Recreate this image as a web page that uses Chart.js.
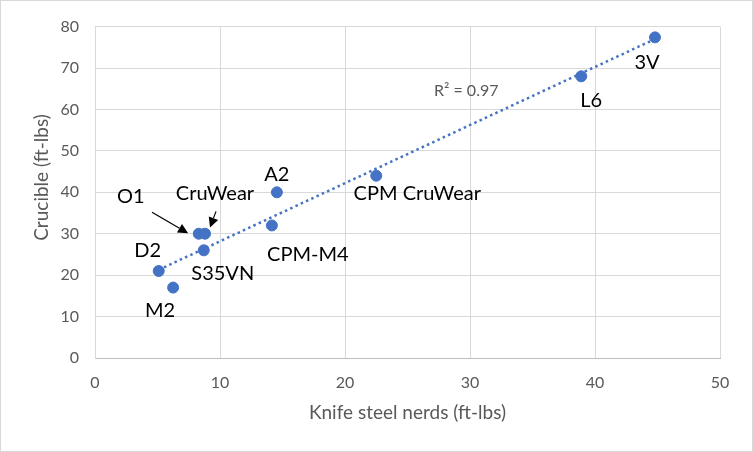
<!DOCTYPE html>
<html>
<head>
<meta charset="utf-8">
<script src="https://cdn.jsdelivr.net/npm/chart.js@4/dist/chart.umd.min.js"></script>
<style>
  body { margin: 0; background: #fff; }
  #wrap { width: 753px; height: 452px; box-sizing: border-box; border: 1px solid #d9d9d9; }
  canvas { display: block; }
</style>
</head>
<body>
<div id="wrap"><canvas id="myChart" width="751" height="450"></canvas></div>
<script>
// steel names and toughness values (ft-lbs)
const steels = ["O1", "CruWear", "A2", "CPM-M4", "D2", "S35VN", "M2", "CPM CruWear", "L6", "3V"];
const ksnValues = [8.3, 8.8, 14.55, 14.15, 5.1, 8.7, 6.25, 22.5, 38.9, 44.8];
const crucibleValues = [30, 30, 40, 32, 21, 26, 17, 44, 68, 77.4];

// trendline end points
const trendX = [5.1, 44.8];
const trendY = [21.3, 77.0];
const rSquared = "R² = 0.97";

const xTicks = [0, 10, 20, 30, 40, 50];
const yTicks = [0, 10, 20, 30, 40, 50, 60, 70, 80];
const yTitle = "Crucible (ft-lbs)";

// label placement (pixels from the point)
const labelOffsets = [[-68, -37], [10, -40], [0, -18], [36, 29], [-11, -20], [19, 23], [-13, 23], [41, 18], [10, 24], [-8, 25]];
// arrows for the two overlapping points, in data units [x1, y1, x2, y2]
const arrows = [[4.56, 35.2, 7.45, 30.1], [9.68, 35.4, 9.2, 31.5]];

const points = ksnValues.map((v, i) => ({ x: v, y: crucibleValues[i] }));
const trend = trendX.map((v, i) => ({ x: v, y: trendY[i] }));

const labelPlugin = {
  id: "labels",
  afterDatasetsDraw(chart) {
    const ctx = chart.ctx;
    const xs = chart.scales.x, ys = chart.scales.y;
    ctx.save();
    ctx.font = "20px Lato";
    ctx.fillStyle = "#000";
    ctx.textAlign = "center";
    ctx.textBaseline = "middle";
    steels.forEach((name, i) => {
      const px = xs.getPixelForValue(ksnValues[i]);
      const py = ys.getPixelForValue(crucibleValues[i]);
      ctx.fillText(name, px + labelOffsets[i][0], py + labelOffsets[i][1]);
    });
    // R squared
    ctx.font = "16px Lato";
    ctx.fillStyle = "#595959";
    ctx.fillText(rSquared, xs.getPixelForValue(29.7), ys.getPixelForValue(64.4));
    // y axis title (sits a bit above the plot centre, like the original)
    ctx.save();
    ctx.translate(41, 176.5);
    ctx.rotate(-Math.PI / 2);
    ctx.font = "19px Lato";
    ctx.fillText(yTitle, 0, 0);
    ctx.restore();
    // arrows
    ctx.strokeStyle = "#000";
    ctx.fillStyle = "#000";
    ctx.lineWidth = 1.2;
    arrows.forEach(a => {
      const x1 = xs.getPixelForValue(a[0]), y1 = ys.getPixelForValue(a[1]);
      const x2 = xs.getPixelForValue(a[2]), y2 = ys.getPixelForValue(a[3]);
      const ang = Math.atan2(y2 - y1, x2 - x1);
      const hl = 10, hw = 5;
      const bx = x2 - hl * Math.cos(ang), by = y2 - hl * Math.sin(ang);
      ctx.beginPath();
      ctx.moveTo(x1, y1);
      ctx.lineTo(bx, by);
      ctx.stroke();
      ctx.beginPath();
      ctx.moveTo(x2, y2);
      ctx.lineTo(bx + hw * Math.sin(ang), by - hw * Math.cos(ang));
      ctx.lineTo(bx - hw * Math.sin(ang), by + hw * Math.cos(ang));
      ctx.closePath();
      ctx.fill();
    });
    ctx.restore();
  }
};

new Chart(document.getElementById("myChart"), {
  type: "scatter",
  data: {
    datasets: [
      {
        label: "Trend",
        type: "line",
        data: trend,
        borderColor: "#4472c4",
        borderWidth: 2.5,
        borderDash: [2.5, 3.3],
        pointRadius: 0,
        fill: false
      },
      {
        label: "Steels",
        data: points,
        backgroundColor: "#4472c4",
        borderColor: "#4472c4",
        borderWidth: 1,
        pointRadius: 5.5,
        pointHoverRadius: 5.5
      }
    ]
  },
  options: {
    responsive: false,
    animation: false,
    layout: { padding: { left: 0, top: 23, right: 32, bottom: 0 } },
    plugins: { legend: { display: false }, tooltip: { enabled: false } },
    scales: {
      x: {
        type: "linear",
        min: 0,
        max: 50,
        afterBuildTicks: s => { s.ticks = xTicks.map(v => ({ value: v })); },
        afterFit: s => { s.height = 93; },
        grid: { color: "#d9d9d9", drawTicks: false },
        border: { color: "#bfbfbf", width: 1 },
        ticks: { padding: 15, color: "#595959", font: { family: "Lato", size: 16 } },
        title: {
          display: true,
          text: "Knife steel nerds (ft-lbs)",
          color: "#595959",
          font: { family: "Lato", size: 19 },
          padding: { top: 0, bottom: 27 }
        }
      },
      y: {
        min: 0,
        max: 80,
        afterBuildTicks: s => { s.ticks = yTicks.map(v => ({ value: v })); },
        afterFit: s => { s.width = 94; },
        grid: { color: "#d9d9d9", drawTicks: false },
        border: { color: "#d9d9d9", width: 1 },
        ticks: { padding: 16, color: "#595959", font: { family: "Lato", size: 16 } }
      }
    }
  },
  plugins: [labelPlugin]
});
</script>
</body>
</html>
